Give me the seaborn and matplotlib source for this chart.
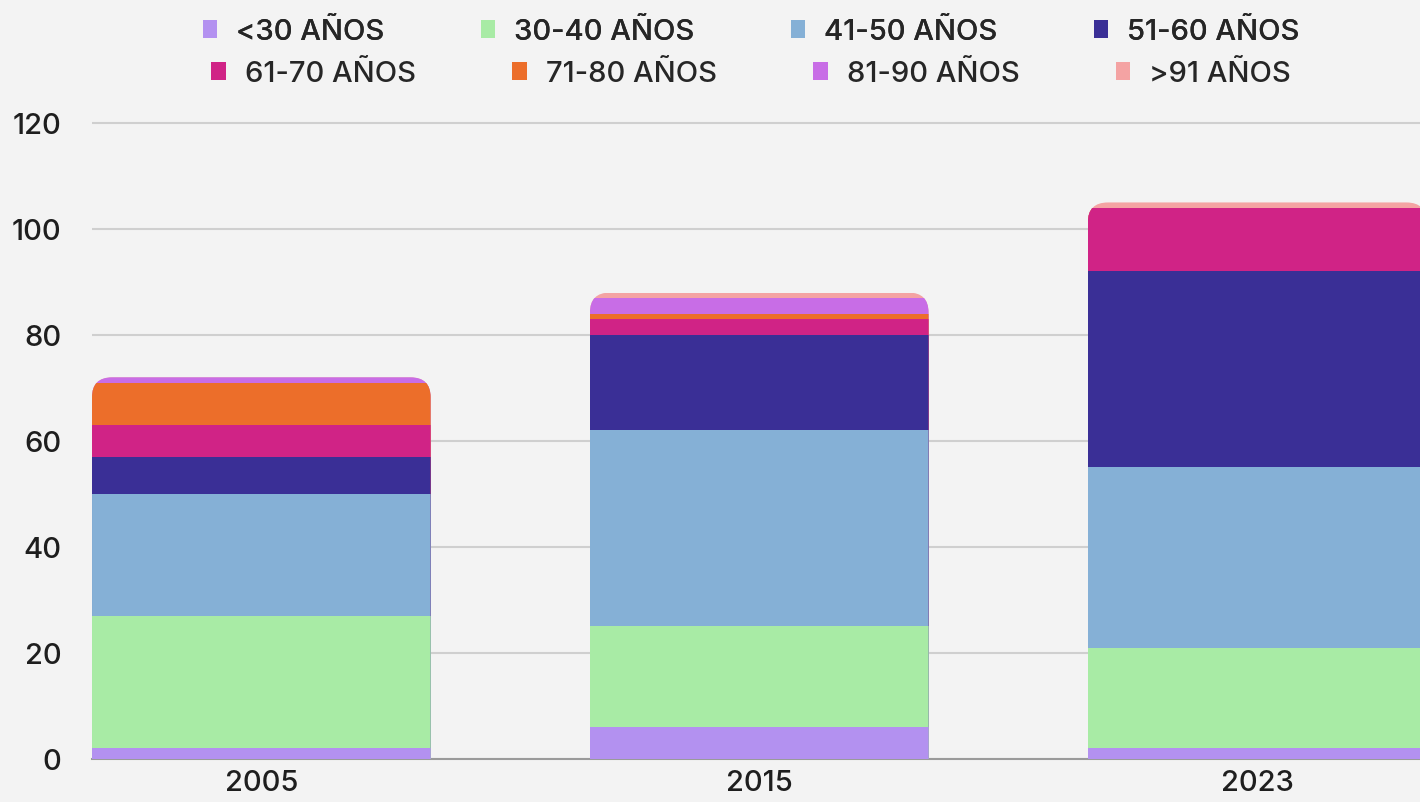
import numpy as np
import matplotlib
matplotlib.use("Agg")
import matplotlib.pyplot as plt
import seaborn as sns
from matplotlib.patches import FancyBboxPatch, Patch

years = ["2005", "2015", "2023"]
groups = ["<30 AÑOS", "30-40 AÑOS", "41-50 AÑOS", "51-60 AÑOS",
          "61-70 AÑOS", "71-80 AÑOS", "81-90 AÑOS", ">91 AÑOS"]
menos30 = [2, 6, 2]
de30a40 = [25, 19, 19]
de41a50 = [23, 37, 34]
de51a60 = [7, 18, 37]
de61a70 = [6, 3, 12]
de71a80 = [8, 1, 0]
de81a90 = [1, 3, 0]
mas91 = [0, 1, 1]
colors = ["#b391f0", "#a8eba5", "#85b0d6", "#3a2f96",
          "#d02386", "#ec6e2a", "#c86de6", "#f4a3a3"]

series = [menos30, de30a40, de41a50, de51a60, de61a70, de71a80, de81a90, mas91]
cum = np.cumsum(np.array(series), axis=0)

sns.set_style("white")
plt.rcParams['font.family'] = ['Inter', 'DejaVu Sans']
plt.rcParams['font.weight'] = 500
bg = "#f3f3f3"

fig = plt.figure(figsize=(14.2, 8.03), dpi=100, facecolor=bg)
ax = fig.add_axes([0.0648, 0.05355, 0.9352, 0.7987])
ax.set_facecolor(bg)

width = 0.68
# overlaid cumulative bars, from the top segment down
for k in range(len(groups) - 1, -1, -1):
    sns.barplot(x=years, y=cum[k], color=colors[k], saturation=1,
                width=width, linewidth=0, errorbar=None, ax=ax, zorder=3)

# round the top corners of each stacked column
totals = cum[-1]
ry = 20 / 5.3
rx = 20 / 498
for i, tot in enumerate(totals):
    clip = FancyBboxPatch((i - width / 2, -10), width, tot + 10,
                          boxstyle=f"round,pad=0,rounding_size={rx}",
                          mutation_aspect=ry / rx, transform=ax.transData)
    for p in ax.patches:
        if abs(p.get_x() + p.get_width() / 2 - i) < 0.01:
            p.set_clip_path(clip)
            p.set_antialiased(False)

ax.set_xlim(-0.34, 2.327)
ax.set_ylim(0, 121)
ax.set_yticks(range(0, 121, 20))
ax.yaxis.grid(True, color="#cfcfcf", linewidth=1.5, zorder=0)
ax.set_axisbelow(True)
for s in ["top", "right", "left"]:
    ax.spines[s].set_visible(False)
ax.spines["bottom"].set_color("#9a9a9a")
ax.spines["bottom"].set_linewidth(1.5)
ax.tick_params(axis="both", length=0, labelsize=21, colors="#1e1e1e")
ax.tick_params(axis="y", pad=22)
ax.tick_params(axis="x", pad=7)
ax.set_xlabel("")
ax.set_ylabel("")

handles = [Patch(facecolor=c, edgecolor="none") for c in colors]
leg_kw = dict(ncol=4, loc="center", frameon=False, fontsize=21,
              handlelength=0.5, handleheight=0.6, handletextpad=0.65,
              columnspacing=3.3)
leg1 = fig.legend(handles[:4], groups[:4],
                  bbox_to_anchor=(0.529, 1 - 33 / 803), **leg_kw)
fig.legend(handles[4:], groups[4:],
           bbox_to_anchor=(0.529, 1 - 75 / 803), **leg_kw)
fig.add_artist(leg1)

fig.savefig("out.png", dpi=100, facecolor=bg)
